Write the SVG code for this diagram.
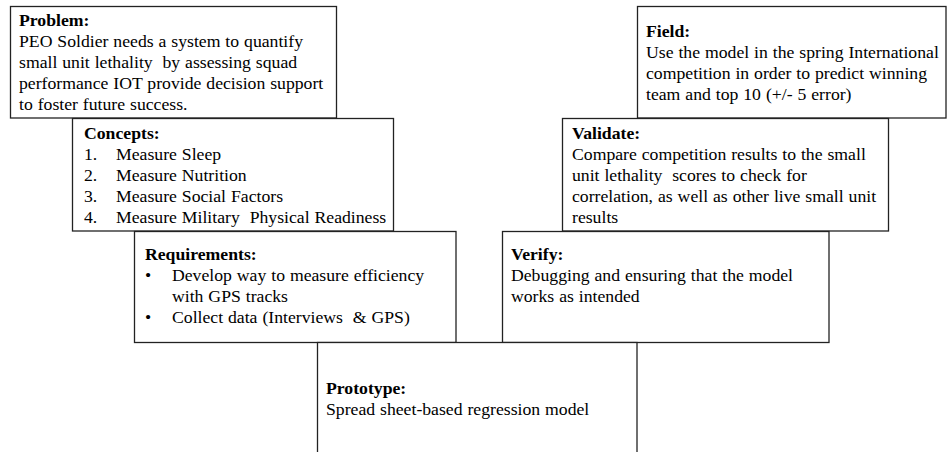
<svg xmlns="http://www.w3.org/2000/svg" width="951" height="452" viewBox="0 0 951 452" xml:space="preserve">
<style>
.box{fill:#fff;stroke:#222;stroke-width:1.3}
text{font-family:"Liberation Serif","Times New Roman",serif;font-size:17.7px;fill:#000;white-space:pre;word-spacing:0.5px}
.h{font-weight:bold}
</style>
<rect width="951" height="452" fill="#fff"/>
<g id="problem">
<rect class="box" x="10.5" y="6.5" width="326" height="111.5"/>
<text x="19" y="26" class="h">Problem:</text>
<text x="19" y="47">PEO Soldier needs a system to quantify</text>
<text x="19" y="68">small unit lethality  by assessing squad</text>
<text x="19" y="89">performance IOT provide decision support</text>
<text x="19" y="110">to foster future success.</text>
</g>
<g id="field">
<rect class="box" x="637.5" y="6.5" width="308.5" height="111.5"/>
<text x="646" y="37" class="h">Field:</text>
<text x="646" y="58">Use the model in the spring International</text>
<text x="646" y="79">competition in order to predict winning</text>
<text x="646" y="100">team and top 10 (+/- 5 error)</text>
</g>
<g id="concepts">
<rect class="box" x="72.5" y="118.5" width="321" height="112.5"/>
<text x="84" y="139" class="h">Concepts:</text>
<text x="84" y="160">1.</text><text x="116" y="160">Measure Sleep</text>
<text x="84" y="181">2.</text><text x="116" y="181">Measure Nutrition</text>
<text x="84" y="202">3.</text><text x="116" y="202">Measure Social Factors</text>
<text x="84" y="223">4.</text><text x="116" y="223">Measure Military  Physical Readiness</text>
</g>
<g id="validate">
<rect class="box" x="562.5" y="118.5" width="326" height="112.5"/>
<text x="572" y="139" class="h">Validate:</text>
<text x="572" y="160">Compare competition results to the small</text>
<text x="572" y="181">unit lethality  scores to check for</text>
<text x="572" y="202">correlation, as well as other live small unit</text>
<text x="572" y="223">results</text>
</g>
<g id="requirements">
<rect class="box" x="134.5" y="231.5" width="321.5" height="111"/>
<text x="145" y="260" class="h">Requirements:</text>
<text x="145" y="281">•</text><text x="172" y="281">Develop way to measure efficiency</text>
<text x="172" y="302">with GPS tracks</text>
<text x="145" y="323">•</text><text x="172" y="323">Collect data (Interviews  &amp; GPS)</text>
</g>
<g id="verify">
<rect class="box" x="502.5" y="231.5" width="326.5" height="111"/>
<text x="511" y="260" class="h">Verify:</text>
<text x="511" y="281">Debugging and ensuring that the model</text>
<text x="511" y="302">works as intended</text>
</g>
<g id="prototype">
<rect class="box" x="317.5" y="342.5" width="319.5" height="120"/>
<text x="326" y="394" class="h">Prototype:</text>
<text x="326" y="415">Spread sheet-based regression model</text>
</g>
</svg>
